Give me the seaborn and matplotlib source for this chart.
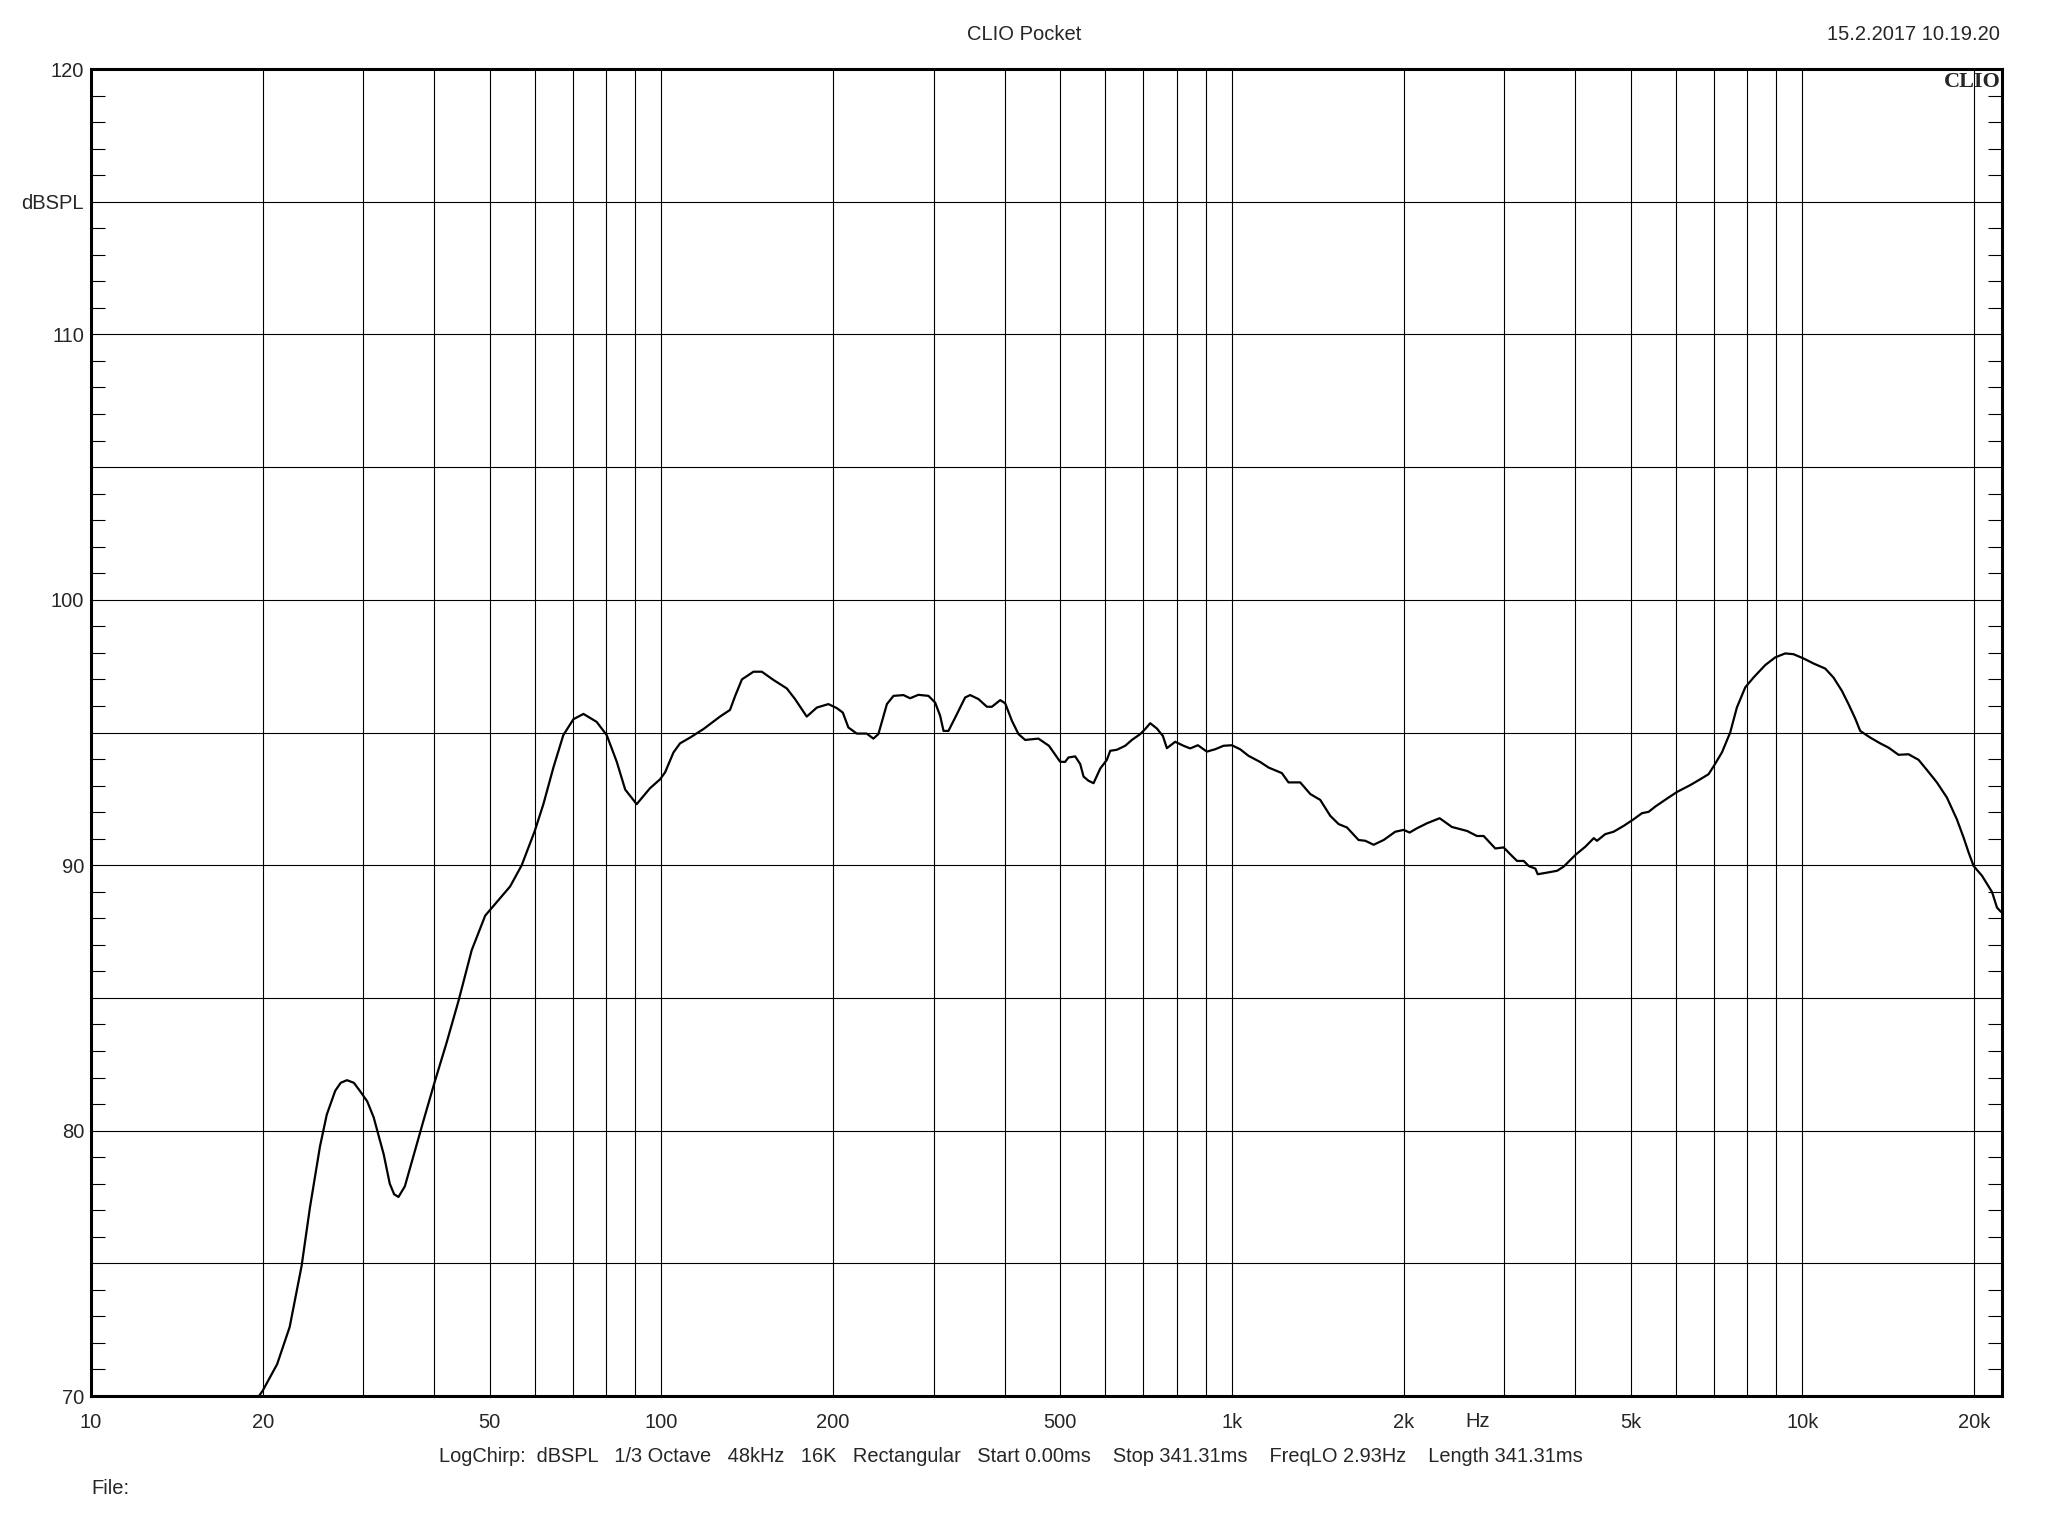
import numpy as np
import pandas as pd
import matplotlib
matplotlib.use('Agg')
import matplotlib.pyplot as plt
from matplotlib.ticker import NullLocator
import seaborn as sns

# frequency response
freq = [19.7, 20.0, 21.2, 22.3, 23.4, 24.2, 25.2, 25.9, 26.8, 27.4, 28.1, 28.9, 29.6, 30.5, 31.3,
        32.6, 33.4, 34.0, 34.6, 35.5, 36.7, 38.3, 40.0, 42.0, 44.1, 46.5, 49.1, 51.4, 54.3,
        56.9, 60.0, 62.1, 64.7, 67.3, 70.1, 73.0, 77.0, 80.2, 83.5, 86.4, 90.5,
        95.5, 99.5, 101.5, 105, 107.8, 112.3, 118.5, 126.7, 131.9, 134.7, 138.4,
        145, 150, 157.2, 165.9, 171.5, 179.8, 187.3, 196.2, 203, 208, 212.7, 220,
        229, 235.3, 240.1, 248.5, 255.2, 265.7, 272.9, 282.2, 293.9, 301.9, 308.1,
        312.3, 318.6, 329.6, 340.8, 347.8, 359.6, 372.1, 379.7, 392.6, 400.6,
        411.6, 422.7, 434.2, 458.1, 478, 500, 510, 517.3, 531.4, 542.3, 549.6,
        560.9, 572.3, 587.9, 603.9, 612.1, 628.8, 650.3, 668.1, 690.9, 705, 719.3,
        739, 757.1, 769.4, 795.7, 822.9, 845.3, 872, 904.3, 935.3, 967, 1000,
        1034, 1070, 1121, 1160, 1224, 1257, 1318, 1373, 1429, 1488, 1539, 1592,
        1668, 1714, 1773, 1846, 1934, 2001, 2050, 2111, 2199, 2314, 2432, 2585,
        2690, 2764, 2840, 2897, 2996, 3078, 3163, 3249, 3315, 3406, 3438, 3569,
        3718, 3819, 4004, 4168, 4311, 4368, 4515, 4669, 4862, 5063, 5237, 5379,
        5527, 5794, 6033, 6366, 6628, 6853, 7000, 7232, 7477, 7681, 7945, 8214,
        8613, 8967, 9337, 9656, 10054, 10467, 10972, 11346, 11737, 12055, 12384,
        12638, 13157, 13703, 14169, 14753, 15362, 15995, 16540, 17222, 17932,
        18668, 19184, 19575, 19976, 20665, 21516, 21955, 22314]
spl = [70.0, 70.2, 71.2, 72.6, 74.9, 77.1, 79.4, 80.6, 81.5, 81.8, 81.9, 81.8, 81.5, 81.1, 80.5,
       79.1, 78.0, 77.6, 77.5, 77.9, 79.0, 80.4, 81.8, 83.3, 84.9, 86.8, 88.1, 88.6, 89.2,
       90.0, 91.3, 92.3, 93.7, 94.9, 95.5, 95.7, 95.4, 94.9, 93.9, 92.85, 92.3,
       92.9, 93.24, 93.5, 94.25, 94.59, 94.81, 95.13, 95.6, 95.85, 96.38, 97.0,
       97.29, 97.29, 96.98, 96.66, 96.26, 95.6, 95.94, 96.07, 95.92, 95.75, 95.19,
       94.96, 94.96, 94.77, 94.94, 96.07, 96.38, 96.41, 96.29, 96.42, 96.38, 96.13,
       95.63, 95.06, 95.06, 95.69, 96.32, 96.41, 96.26, 95.97, 95.97, 96.22, 96.1,
       95.44, 94.94, 94.72, 94.77, 94.5, 93.9, 93.89, 94.06, 94.1, 93.81, 93.34,
       93.18, 93.09, 93.64, 93.97, 94.31, 94.35, 94.5, 94.72, 94.94, 95.13, 95.35,
       95.15, 94.87, 94.41, 94.65, 94.5, 94.4, 94.52, 94.28, 94.37, 94.5, 94.52,
       94.37, 94.12, 93.89, 93.68, 93.47, 93.12, 93.12, 92.68, 92.46, 91.86, 91.55,
       91.42, 90.95, 90.92, 90.77, 90.95, 91.26, 91.33, 91.23, 91.39, 91.58, 91.77,
       91.44, 91.29, 91.1, 91.1, 90.83, 90.63, 90.67, 90.41, 90.16, 90.16, 89.97,
       89.87, 89.66, 89.72, 89.79, 89.95, 90.39, 90.7, 91.02, 90.92, 91.17, 91.26,
       91.48, 91.73, 91.96, 92.01, 92.21, 92.51, 92.76, 93.02, 93.24, 93.43, 93.74,
       94.25, 95.0, 95.94, 96.7, 97.07, 97.54, 97.83, 97.98, 97.95, 97.79, 97.6,
       97.41, 97.07, 96.57, 96.07, 95.53, 95.06, 94.81, 94.59, 94.43, 94.16, 94.18,
       93.97, 93.59, 93.12, 92.55, 91.73, 91.04, 90.48, 89.97, 89.6, 88.99, 88.4,
       88.24]

x_ticks = [10, 20, 50, 100, 200, 500, 1000, 2000, 5000, 10000, 20000]
x_labels = ['10', '20', '50', '100', '200', '500', '1k', '2k', '5k', '10k', '20k']
grid_freqs = [20, 30, 40, 50, 60, 70, 80, 90,
              100, 200, 300, 400, 500, 600, 700, 800, 900,
              1000, 2000, 3000, 4000, 5000, 6000, 7000, 8000, 9000,
              10000, 20000]
y_ticks = list(range(70, 121, 5))
y_labels = ['70', '', '80', '', '90', '', '100', '', '110', 'dBSPL', '120']

info = ('LogChirp:  dBSPL   1/3 Octave   48kHz   16K   Rectangular   '
        'Start 0.00ms    Stop 341.31ms    FreqLO 2.93Hz    Length 341.31ms')

sns.set_style('white')
plt.rcParams['font.family'] = ['Liberation Sans', 'DejaVu Sans']

fig = plt.figure(figsize=(20.48, 15.36), dpi=100)
ax = fig.add_axes([91 / 2048, 1 - 1396 / 1536, 1911 / 2048, 1327 / 1536])
ax.set_xscale('log')

df = pd.DataFrame({'Hz': freq, 'dBSPL': spl})
sns.lineplot(data=df, x='Hz', y='dBSPL', ax=ax, color='black', linewidth=1.6, zorder=3)

ax.set_xlim(10, 22400)
ax.set_ylim(70, 120)

for f in grid_freqs:
    ax.axvline(f, color='black', lw=0.8, zorder=1)

ax.set_yticks(y_ticks)
ax.set_yticklabels(y_labels)
ax.yaxis.grid(True, color='black', lw=0.8)
ax.set_yticks(np.arange(70, 121, 1), minor=True)
ax.tick_params(axis='y', which='major', length=0, pad=5, labelsize=14.5)
ax.tick_params(axis='y', which='minor', length=10, width=0.8, direction='in',
               left=True, right=True, color='black')

ax.set_xticks(x_ticks)
ax.set_xticklabels(x_labels)
ax.xaxis.set_minor_locator(NullLocator())
ax.tick_params(axis='x', which='major', length=0, pad=12, labelsize=14.5)
ax.set_xlabel('')
ax.set_ylabel('')
for s in ax.spines.values():
    s.set_linewidth(2.2)
    s.set_color('black')

ax.text(2693, -0.0195, 'Hz', transform=ax.get_xaxis_transform(),
        ha='center', va='center', fontsize=14.5)
ax.text(0.9995, 0.998, 'CLIO', transform=ax.transAxes, ha='right', va='top',
        family=['Liberation Serif', 'DejaVu Serif'], fontweight='heavy', fontsize=16)

fig.text(0.5, 1 - 34 / 1536, 'CLIO Pocket', ha='center', va='center', fontsize=14.5)
fig.text(2000 / 2048, 1 - 35 / 1536, '15.2.2017 10.19.20', ha='right', va='center',
         fontsize=14.5)
fig.text(1011 / 2048, 1 - 1456 / 1536, info, ha='center', va='center', fontsize=14.4)
fig.text(91 / 2048, 1 - 1489 / 1536, 'File:', ha='left', va='center', fontsize=14.5)

fig.savefig('out.png', dpi=100, facecolor='white')
